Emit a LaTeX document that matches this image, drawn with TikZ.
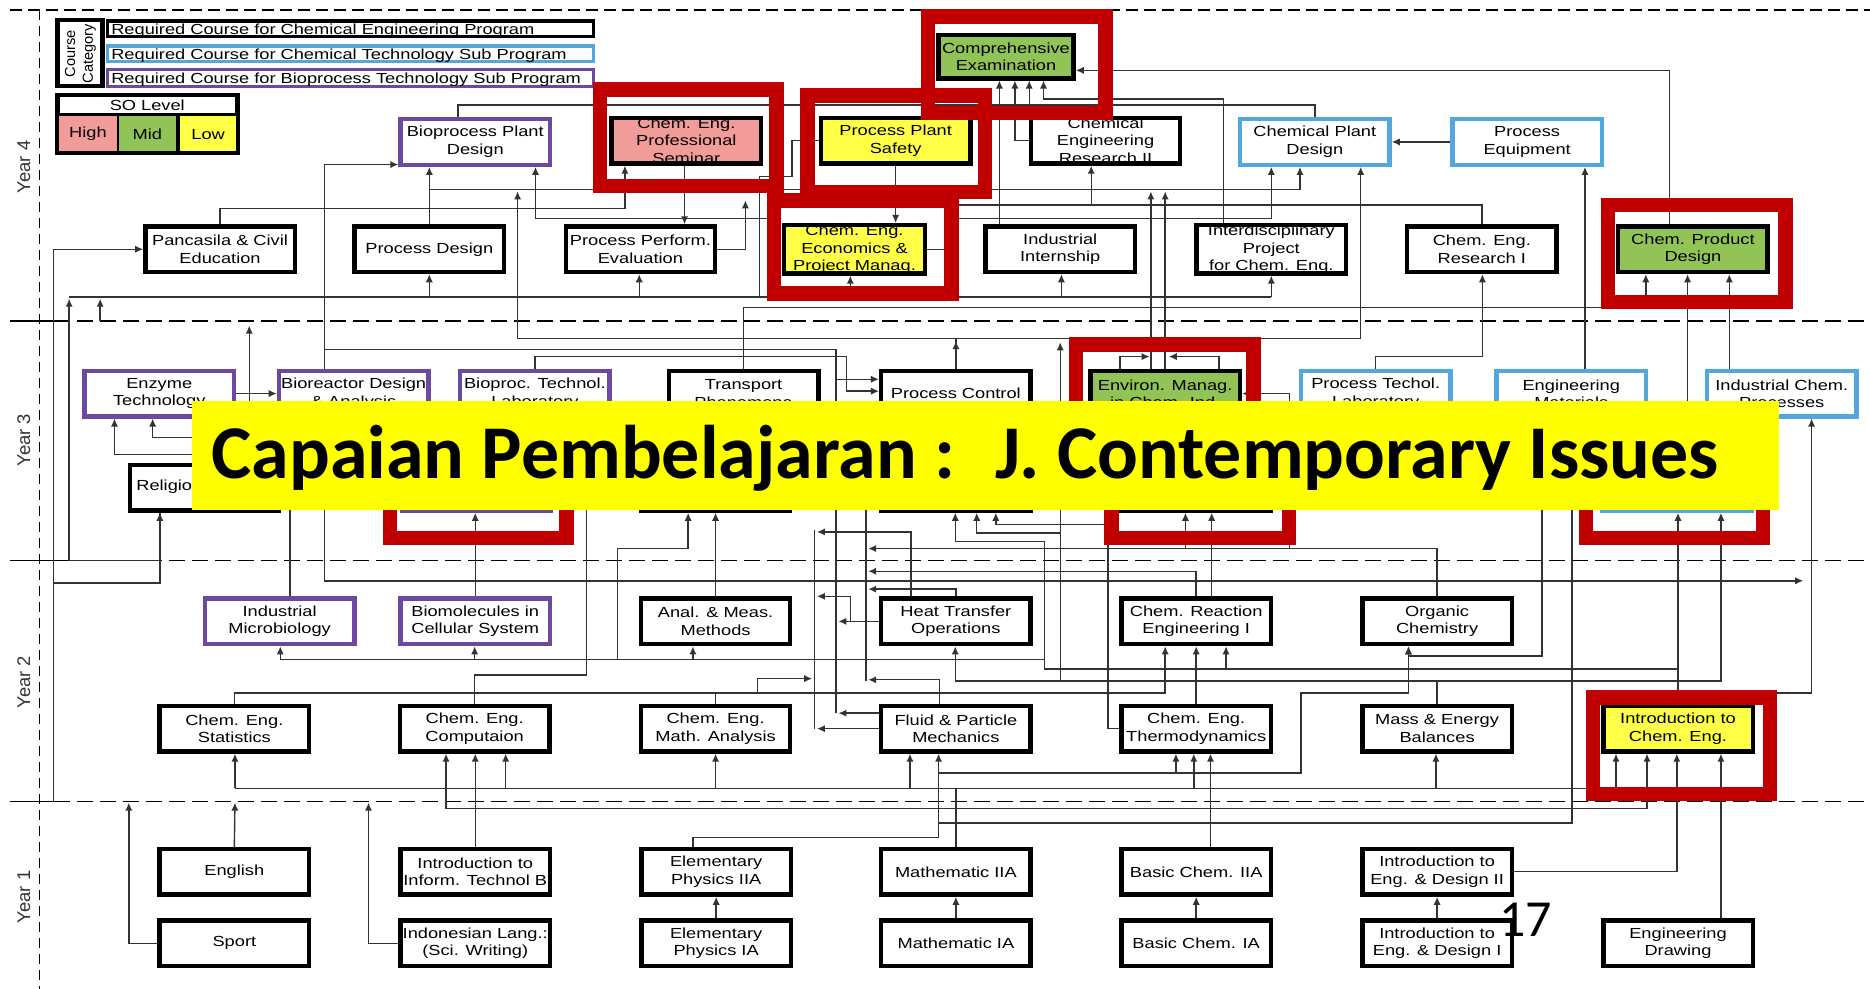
\documentclass[tikz,border=0pt]{standalone}
\usepackage{fontspec}
\usetikzlibrary{arrows.meta,calc}
\newfontfamily\boxfam[FakeStretch=1.25]{Liberation Sans}
\newfontfamily\plainsans{Liberation Sans}
\newfontfamily\calfam{Carlito}
\newcommand\boxfont{\boxfam\fontsize{7.3}{8.7}\selectfont}
\definecolor{hicol}{RGB}{241,156,152}
\definecolor{midcol}{RGB}{146,195,86}
\definecolor{locol}{RGB}{255,255,72}
\definecolor{cyanb}{RGB}{82,168,222}
\definecolor{purpb}{RGB}{108,72,160}
\definecolor{redf}{RGB}{192,0,0}
\definecolor{bannery}{RGB}{255,255,0}
\pgfdeclarelayer{back}
\pgfdeclarelayer{lines}
\pgfsetlayers{back,lines,main}
\tikzset{
  ln/.style={line width=0.7pt, draw=black!80},
  ar/.style={ln, -{Latex[length=4pt,width=3.6pt]}},
  bx/.style={draw=black, line width=2.2pt, fill=white, minimum width=74.7pt,
             minimum height=22.8pt, inner sep=0pt, align=center, font=\boxfont},
  cy/.style={bx, draw=cyanb},
  pu/.style={bx, draw=purpb},
  hi/.style={bx, fill=hicol},
  md/.style={bx, fill=midcol},
  lo/.style={bx, fill=locol},
  rf/.style={draw=redf, line width=7.2pt, inner sep=0pt, minimum width=88.8pt, minimum height=48.3pt},
  yr/.style={rotate=90, font=\plainsans\fontsize{9.2}{9.2}\selectfont, text=black!80, inner sep=0pt},
  yline/.style={line width=0.8pt, dash pattern=on 8pt off 3.5pt},
  lgrow/.style={line width=1.8pt, inner sep=0pt, minimum width=243pt},
  lgtxt/.style={anchor=base west, inner sep=0pt, font=\boxfont},
}
\begin{document}
\begin{tikzpicture}[x=0.5963pt, y=-0.5963pt]
\useasboundingbox (0,0) rectangle (1568,829.2);

% ---------- page background, year separators ----------
\begin{pgfonlayer}{back}
\fill[white] (0,0) rectangle (1568,829.2);
\draw[line width=0.8pt, dash pattern=on 6pt off 3pt] (8,8.5) -- (1568,8.5);
\draw[line width=0.8pt, dash pattern=on 5pt off 3pt] (33,8.5) -- (33,829.2);
\foreach \yy in {269,470,672} {
  \draw[line width=0.8pt] (8,\yy) -- (45,\yy);
  \draw[yline] (45,\yy) -- (1568,\yy);
}
\end{pgfonlayer}

\node[yr] (yr4) at (20,140) {Year 4};
\node[yr] (yr3) at (20,369) {Year 3};
\node[yr] (yr2) at (20,572) {Year 2};
\node[yr] (yr1) at (20,752) {Year 1};

% ---------- legend: course category ----------
\node[draw=black, line width=2.4pt, minimum width=22.6pt, minimum height=33pt, inner sep=0pt] (cat) at (67,44.5) {};
\node[rotate=90, align=center, inner sep=0pt, font=\plainsans\fontsize{7.3}{8.9}\selectfont] (cattxt) at (67.5,45) {Course\\Category};
\node[lgrow, draw=black, minimum height=7.9pt] (lg1) at (294,24) {};
\node[lgrow, draw=cyanb, minimum height=7.9pt] (lg2) at (294,45) {};
\node[lgrow, draw=purpb, minimum height=8.5pt] (lg3) at (294,65.5) {};
\node[lgtxt] (lg1t) at (93,28.6) {Required Course for Chemical Engineering Program};
\node[lgtxt] (lg2t) at (93,49.6) {Required Course for Chemical Technology Sub Program};
\node[lgtxt] (lg3t) at (93,70) {Required Course for Bioprocess Technology Sub Program};

% ---------- legend: SO level ----------
\fill[black] (46,78) rectangle (201,130);
\fill[white] (50,81.5) rectangle (197,94.5);
\fill[hicol] (49.7,97) rectangle (97.8,127);
\fill[midcol] (99.5,97) rectangle (147.6,127);
\fill[locol] (150.9,97) rectangle (198,127);
\node[inner sep=0pt, font=\boxfont] (solev) at (123.5,88.5) {SO Level};
\node[inner sep=0pt, font=\boxfont] (sohi) at (73.7,112.5) {High};
\node[inner sep=0pt, font=\boxfont] (somd) at (123.5,112.5) {Mid};
\node[inner sep=0pt, font=\boxfont] (solo) at (174.5,112.5) {Low};

% ---------- Year 4 ----------
\node[pu] (bpd)  at (398.5,119) {Bioprocess Plant\\Design};
\node[hi] (ceps) at (575.5,118) {Chem. Eng.\\Professional\\Seminar};
\node[lo] (pps)  at (751,118)   {Process Plant\\Safety};
\node[bx] (cer2) at (927,118)   {Chemical\\Engineering\\Research II};
\node[cy] (cpd)  at (1102.5,119) {Chemical Plant\\Design};
\node[cy] (peq)  at (1280.5,119) {Process\\Equipment};
\node[md, minimum width=67.6pt, minimum height=21.7pt] (cexam) at (843.5,47.5) {Comprehensive\\Examination};

\node[bx] (pce)   at (184.5,209) {Pancasila \& Civil\\Education};
\node[bx] (pdes)  at (360,209)   {Process Design};
\node[bx] (ppe)   at (537,209)   {Process Perform.\\Evaluation};
\node[lo, minimum width=70.5pt] (ceepm) at (716.5,209) {Chem. Eng.\\Economics \&\\Project Manag.};
\node[bx] (iint)  at (889,209)   {Industrial\\Internship};
\node[bx] (ipce)  at (1066,209)  {Interdisciplinary\\Project\\for Chem. Eng.};
\node[bx] (cer1)  at (1242.5,209) {Chem. Eng.\\Research I};
\node[md] (cprd)  at (1419.5,209) {Chem. Product\\Design};

% ---------- Year 3 ----------
\node[pu] (enz)     at (133.5,330) {Enzyme\\Technology};
\node[pu] (bioreac) at (296.5,330) {Bioreactor Design\\\& Analysis};
\node[pu] (bptl)    at (448.5,330) {Bioproc. Technol.\\Laboratory};
\node[bx] (tp)      at (623.5,330) {Transport\\Phenomena};
\node[bx] (pc)      at (801.5,330) {Process Control};
\node[md] (emci)    at (977,330)   {Environ. Manag.\\in Chem. Ind.};
\node[cy] (ptl)     at (1153.5,330) {Process Techol.\\Laboratory};
\node[cy] (em)      at (1317.5,330) {Engineering\\Materials};
\node[cy] (icp)     at (1494,330)  {Industrial Chem.\\Processes};

\node[bx] (rel) at (171.5,409) {};
\node[lgtxt] (reltxt) at (114,411.5) {Religion};
\node[pu] (y3b) at (399.5,409) {};
\node[bx] (y3c) at (600,409) {};
\node[bx] (y3d) at (801.5,409) {};
\node[bx] (y3e) at (1003,409) {};
\node[cy] (y3f) at (1406,409) {};

% ---------- Year 2 ----------
\node[pu] (imb) at (234.5,521) {Industrial\\Microbiology};
\node[pu] (bcs) at (398.5,521) {Biomolecules in\\Cellular System};
\node[bx] (amm) at (600,521)   {Anal. \& Meas.\\Methods};
\node[bx] (hto) at (801.5,521) {Heat Transfer\\Operations};
\node[bx] (cre) at (1003,521)  {Chem. Reaction\\Engineering I};
\node[bx] (och) at (1205,521)  {Organic\\Chemistry};

\node[bx] (ces)  at (196.5,611) {Chem. Eng.\\Statistics};
\node[bx] (cec)  at (398,611)   {Chem. Eng.\\Computaion};
\node[bx] (cema) at (600,611)   {Chem. Eng.\\Math. Analysis};
\node[bx] (fpm)  at (801.5,611) {Fluid \& Particle\\Mechanics};
\node[bx] (cet)  at (1003,611)  {Chem. Eng.\\Thermodynamics};
\node[bx] (meb)  at (1205,611)  {Mass \& Energy\\Balances};
\node[lo] (ice)  at (1407,611)  {Introduction to\\Chem. Eng.};

% ---------- Year 1 ----------
\node[bx] (eng)  at (196.5,731) {English};
\node[bx] (iit)  at (398.5,731) {Introduction to\\Inform. Technol B};
\node[bx] (ep2)  at (600.5,731) {Elementary\\Physics IIA};
\node[bx] (m2)   at (801.5,731) {Mathematic IIA};
\node[bx] (bc2)  at (1003,731)  {Basic Chem. IIA};
\node[bx] (ied2) at (1205,731)  {Introduction to\\Eng. \& Design II};

\node[bx] (sport) at (196.5,791) {Sport};
\node[bx] (ind)   at (398.5,791) {Indonesian Lang.:\\(Sci. Writing)};
\node[bx] (ep1)   at (600.5,791) {Elementary\\Physics IA};
\node[bx] (m1)    at (801.5,791) {Mathematic IA};
\node[bx] (bc1)   at (1003,791)  {Basic Chem. IA};
\node[bx] (ied1)  at (1205,791)  {Introduction to\\Eng. \& Design I};
\node[bx] (edr)   at (1407,791)  {Engineering\\Drawing};

% ---------- red highlight frames ----------
\node[rf, minimum width=88.3pt] (f1) at (577,115.5) {};
\node[rf] (f2) at (751.5,120.5) {};
\node[rf] (f3) at (852.5,54.5) {};
\node[rf, minimum height=46.5pt] (f4) at (723.5,207) {};
\node[rf] (f5) at (1422.5,212.5) {};
\node[rf] (f6) at (976.5,329.5) {};
\node[rf, minimum width=88.3pt] (f7) at (401,410.5) {};
\node[rf] (f8) at (1006.5,410.5) {};
\node[rf, minimum width=88.3pt] (f9) at (1404,410.5) {};
\node[rf, minimum width=88.3pt] (f10) at (1410,625.5) {};

% ---------- title banner and page number ----------
\node[fill=bannery, inner sep=0pt, anchor=north west, minimum width=793.1pt, minimum height=54.3pt] (ban) at (161,336) {};
\node[anchor=base west, inner sep=0pt, font=\calfam\bfseries\fontsize{38}{38}\selectfont] (bantxt) at (177,401) {Capaian Pembelajaran : \ J. Contemporary Issues};
\node[anchor=base west, inner sep=0pt, font=\calfam\fontsize{26}{26}\selectfont] (pgno) at (1257,785) {17};

% ---------- prerequisite connectors ----------
\begin{pgfonlayer}{lines}
% Year 4
\draw[ar] (pdes.north) -- (bpd.south -| pdes.north);
\draw[ar] (pdes.north) |- (1090,159) -- (cpd.south -| 1090,0);
\draw[ar] (pc.north) |- (434,284) -- (434,160.5);
\draw[ar] (pc.north) |- (1141,284) -- (cpd.south -| 1141,0);
\draw[ar] (pc.north) -- (pc.north |- 0,286);
\draw[ar] (bpd.north -| 384,0) |- (863,88) -- (cexam.south -| 863,0);
\draw[ln] (cpd.north) |- (863,88);
\draw[ar] (iint.north -| 838,0) -- (cexam.south -| 838,0);
\draw[ar] (cer2.west) -| (cexam.south -| 851,0);
\draw[ar] (ipce.north -| 1026,0) |- (875,83) -- (cexam.south -| 875,0);
\draw[ar] (cprd.north -| 1400,0) |- (cexam.east |- 0,59);
\draw[ar] (peq.west) -- (cpd.east);
\draw[ar] (cer1.north) |- (915,172) -- (cer2.south -| 915,0);
\draw[ln] (915,172) -- (f4.east |- 0,172);
\draw[ar] (f4.east |- 0,183) -| (cpd.south -| 1066,0);
\draw[ar] (f4.west |- 0,183) -| (bpd.south -| 449,0);
\draw[ar] (pce.north) |- (524,175) -- (ceps.south -| 524,0);
\draw[ar] (ceps.south -| 574,0) -- (ppe.north -| 574,0);
\draw[ar] (ppe.east) -| ($(f1.south -| 625,0)+(0,6)$);
\draw[ar] (pps.south) -- (ceepm.north -| pps.south);
\draw[ln] (ceepm.east) -- (f4.east |- ceepm.east);
\draw[ln] (pps.west) -| (664,148) -| (637,249);
\draw[ln] (58,249) -- (1066,249);
\foreach \xx/\nm in {360/pdes, 536/ppe, 713/ceepm, 890/iint, 1066/ipce}
  \draw[ar] (\xx,249) -- (\nm.south -| \xx,0);
\draw[ar] (rel.south -| 134,0) |- (58,470) -- (58,250.5);
\draw[ar] (84,269) -- (84,250.5);
\draw[ar] (45,672) |- (pce.west);
\draw[ar] (45,489) -| (rel.south -| 134,0);
\draw[ar] (rel.north -| 209,0) -- (209,273);
\draw[ar] (tp.north) |- (1380,258) -- (cprd.south -| 1380,0);
\draw[ar] (ptl.north) |- (1243,299) -- (cer1.south -| 1243,0);
\draw[ar] (em.north -| 1329,0) -- (peq.south -| 1329,0);
\draw[ar] (icp.north -| 1450,0) -- (cprd.south -| 1450,0);
\draw[ar] (y3f.north -| 1415,0) -- (cprd.south -| 1415,0);
\draw[ar] (emci.north -| 965,0) -- (965,160.5);
\draw[ar] (emci.north -| 977,0) -- (977,160.5);
\draw[ar] (emci.north -| 939,0) |- (964,299);
\draw[ar] (emci.north -| 1022,0) |- (980,299);
% Year 3
\draw[ar] (och.north) |- (1081,460) |- (emci.east);
\draw[ar] (och.north) |- (994,460) -- (y3e.south -| 994,0);
\draw[ar] (och.north) |- (728,460);
\draw[ar] (cre.north -| 1016,0) -- (y3e.south -| 1016,0);
\draw[ar] (enz.east) -- (bioreac.west);
\draw[ar] (bioreac.south -| 300,0) |- (128,367) -- (enz.south -| 128,0);
\draw[ar] (bioreac.south -| 320,0) |- (96,381) -- (enz.south -| 96,0);
\draw[ar] (bptl.north) |- (710,299) |- (pc.west |- 0,328);
\draw[ar] (cre.north) |- (272,487) |- (bpd.west |- 0,138);
\draw[ar] (272,293) -| (701,318) -- (pc.west |- 0,318);
\draw[ln] (701,318) -- (701,598);
\draw[ln] (683,444) -- (683,611);
\draw[ln] (726,420) -- (726,571);
\draw[ar] (cre.north) |- (1512,487);
\draw[ar] (cre.north) |- (728,479);
\draw[ar] (imb.north -| 243,0) -- (bioreac.south -| 243,0);
\draw[ar] (bcs.north) -- (y3b.south -| bcs.north);
\draw[ar] (amm.north) -- (y3c.south);
\draw[ar] (cec.north) |- (492,566) -- (bptl.south -| 492,0);
% Year 2
\draw[ar] (ice.north) |- (876,561) |- (801,454) -- (y3d.south -| 801,0);
\draw[ar] (876,553) -- (235,553) -- (imb.south -| 235,0);
\draw[ar] (398,553) -- (bcs.south -| 398,0);
\draw[ar] (581,553) -- (amm.south -| 581,0);
\draw[ar] (518,553) |- (577,460) -- (y3c.south -| 577,0);
\draw[ar] (1028,561) -- (cre.south -| 1028,0);
\draw[ar] (ice.north) -- (y3f.south -| ice.north);
\draw[ar] (ice.north -| 1460,0) |- (1519,581) -- (icp.south -| 1519,0);
\draw[ar] (meb.north) |- (801,571) -- (hto.south -| 801,0);
\draw[ar] (meb.north) |- (1443,571) -- (y3f.south -| 1443,0);
\draw[ar] (889,571) -- (889,287);
\draw[ar] (889,447) -- (819,447) -- (y3d.south -| 819,0);
\draw[ar] (cet.west) -| (929,440) -| (y3d.south -| 835,0);
\draw[ar] (fpm.north -| 788,0) |- (728,570);
\draw[ar] (hto.west) -- (703,521);
\draw[ar] (hto.north) |- (728,494);
\draw[ar] (hto.north -| 764,0) |- (685,446);
\draw[ar] (713,521) |- (685,500);
\draw[ar] (fpm.west |- 0,598) -- (703,598);
\draw[ar] (fpm.west |- 0,611) -- (685,611);
\draw[ar] (cema.north) |- (635,581) |- (681,569);
\draw[ar] (ces.north) |- (977,581) -- (cre.south -| 977,0);
\draw[ar] (cet.north) -- (cre.south);
\draw[ar] (em.south -| 1293,0) |- (1181,550) -- (och.south -| 1181,0);
% Year 1
\draw[ln] (197,661) -- (1355,661);
\foreach \xx/\nm in {197/ces, 424/cec, 600/cema, 763/fpm, 1001/cet, 1204/meb, 1355/ice}
  \draw[ar] (\xx,661) -- (\nm.south -| \xx,0);
\draw[ln] (m2.north) -- (801.5,661);
\draw[ar] (iit.north) -- (cec.south -| iit.north);
\draw[ar] (bc2.north -| 1015,0) -- (cet.south -| 1015,0);
\draw[ar] (1015,678) -| (cec.south -| 374,0);
\draw[ar] (1015,678) -| (ice.south -| 1381,0);
\draw[ar] (ep2.north -| 581,0) |- (787,702) -- (fpm.south -| 787,0);
\draw[ar] (787,690) -| (em.south -| 1318,0);
\draw[ar] (787,648) -| (cet.south -| 986,0);
\draw[ar] (986,648) -| (1091,581) -| (och.south -| 1181,0);
\draw[ar] (eng.north) -- (197,673);
\draw[ar] (sport.west) -| (108,673);
\draw[ar] (ind.west) -| (309,673);
\draw[ar] (ep1.north) -- (ep2.south);
\draw[ar] (m1.north) -- (m2.south);
\draw[ar] (bc1.north) -- (bc2.south);
\draw[ar] (ied1.north) -- (ied2.south);
\draw[ar] (ied2.east) -| (ice.south -| 1406,0);
\draw[ar] (edr.north -| 1443,0) -- (ice.south -| 1443,0);
\end{pgfonlayer}
\end{tikzpicture}
\end{document}
